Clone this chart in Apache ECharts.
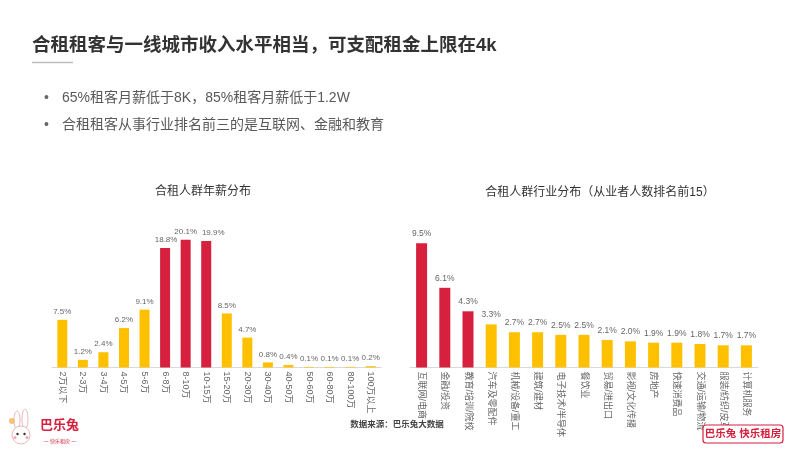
<!DOCTYPE html>
<html><head><meta charset="utf-8">
<script src="https://cdn.jsdelivr.net/npm/echarts@6/dist/echarts.min.js"></script>
<style>html,body{margin:0;padding:0;background:#fff}#c{width:800px;height:450px}</style>
</head><body><div id="c"></div>
<script>
var salaryCats = ['2万以下','2-3万','3-4万','4-5万','5-6万','6-8万','8-10万','10-15万','15-20万','20-30万','30-40万','40-50万','50-60万','60-80万','80-100万','100万以上'];
var salaryVals = [7.5,1.2,2.4,6.2,9.1,18.8,20.1,19.9,8.5,4.7,0.8,0.4,0.1,0.1,0.1,0.2];
var salaryRed = [5,6,7];
var industryCats = ['互联网/电商','金融/投资','教育/培训/院校','汽车及零配件','机械/设备/重工','建筑/建材','电子技术/半导体','餐饮业','贸易/进出口','影视/文化传播','房地产','快速消费品','交通/运输/物流','服装/纺织/皮革','计算机服务'];
var industryVals = [9.5,6.1,4.3,3.3,2.7,2.7,2.5,2.5,2.1,2.0,1.9,1.9,1.8,1.7,1.7];
var industryRed = [0,1,2];

var RED = '#D7203E', YEL = '#FFC000';
var FONT = '"Liberation Sans","Noto Sans CJK SC",sans-serif';

function colorFn(reds){ return function(p){ return reds.indexOf(p.dataIndex) >= 0 ? RED : YEL; }; }
function lbl(p){ return Number(p.value).toFixed(1) + '%'; }

// shift crowded labels the way the reference does
var salaryData = salaryVals.map(function(v, i){
  if (i === 5) return {value: v, label: {offset: [1, 0]}};
  if (i === 7) return {value: v, label: {offset: [7, 0]}};
  return v;
});

var axisCommon = {
  type: 'category',
  axisLine: {lineStyle: {color: '#d9d9d9', width: 1}},
  axisTick: {show: false},
  axisLabel: {interval: 0, rotate: -90, fontSize: 9, color: '#666', fontFamily: FONT, margin: 4}
};

var chart = echarts.init(document.getElementById('c'));
chart.setOption({
  backgroundColor: '#fff',
  animation: false,
  textStyle: {fontFamily: FONT},
  grid: [
    {left: 52, width: 329, top: 208.5, bottom: 82.5},
    {left: 410, width: 348, top: 210.7, bottom: 82.5}
  ],
  xAxis: [
    Object.assign({}, axisCommon, {gridIndex: 0, data: salaryCats}),
    Object.assign({}, axisCommon, {gridIndex: 1, data: industryCats})
  ],
  yAxis: [
    {gridIndex: 0, type: 'value', min: 0, max: 25, show: false},
    {gridIndex: 1, type: 'value', min: 0, max: 12, show: false}
  ],
  series: [
    {type: 'bar', xAxisIndex: 0, yAxisIndex: 0, data: salaryData, barWidth: 10,
     itemStyle: {color: colorFn(salaryRed)},
     label: {show: true, position: 'top', formatter: lbl, fontSize: 8, color: '#666', fontFamily: FONT, distance: 4}},
    {type: 'bar', xAxisIndex: 1, yAxisIndex: 1, data: industryVals, barWidth: 11,
     itemStyle: {color: colorFn(industryRed)},
     label: {show: true, position: 'top', formatter: lbl, fontSize: 8.5, color: '#666', fontFamily: FONT, distance: 5}}
  ],
  graphic: [
    {type: 'text', left: 32, top: 37, style: {text: '合租租客与一线城市收入水平相当，可支配租金上限在4k', font: 'bold 18.5px ' + FONT, fill: '#333'}},
    {type: 'line', shape: {x1: 32, y1: 62.5, x2: 73, y2: 62.5}, style: {stroke: '#bbb', lineWidth: 1.5}},
    {type: 'text', left: 44, top: 91, style: {text: '•', font: '14px ' + FONT, fill: '#666'}},
    {type: 'text', left: 62, top: 91, style: {text: '65%租客月薪低于8K，85%租客月薪低于1.2W', font: '14px ' + FONT, fill: '#595959'}},
    {type: 'text', left: 44, top: 118, style: {text: '•', font: '14px ' + FONT, fill: '#666'}},
    {type: 'text', left: 62, top: 118, style: {text: '合租租客从事行业排名前三的是互联网、金融和教育', font: '14px ' + FONT, fill: '#595959'}},
    {type: 'text', x: 203, y: 192, style: {text: '合租人群年薪分布', font: '12px ' + FONT, fill: '#333', align: 'center', verticalAlign: 'middle'}},
    {type: 'text', x: 600, y: 193, style: {text: '合租人群行业分布（从业者人数排名前15）', font: '12px ' + FONT, fill: '#333', align: 'center', verticalAlign: 'middle'}},
    {type: 'text', x: 397, y: 425, style: {text: '数据来源：巴乐兔大数据', font: 'bold 8.5px ' + FONT, fill: '#444', align: 'center', verticalAlign: 'middle'}},
    // bottom-right logo box
    {type: 'rect', shape: {x: 703, y: 425, width: 80, height: 18, r: 3}, style: {fill: '#fff', stroke: '#D7203E', lineWidth: 1.2}, z: 10},
    {type: 'text', x: 743, y: 434, z: 11, style: {text: '巴乐兔 快乐租房', font: 'bold 10.5px ' + FONT, fill: '#D7203E', align: 'center', verticalAlign: 'middle'}},
    // bottom-left logo
    {type: 'ellipse', shape: {cx: 17, cy: 420, rx: 3, ry: 9}, style: {fill: '#fff', stroke: '#e9b9b9', lineWidth: 1}},
    {type: 'ellipse', shape: {cx: 25, cy: 419, rx: 3, ry: 10}, style: {fill: '#fff', stroke: '#e9b9b9', lineWidth: 1}},
    {type: 'circle', shape: {cx: 21, cy: 435, r: 9}, style: {fill: '#fff', stroke: '#e9b9b9', lineWidth: 1}},
    {type: 'circle', shape: {cx: 17.5, cy: 434, r: 1.2}, style: {fill: '#333'}},
    {type: 'circle', shape: {cx: 24.5, cy: 434, r: 1.2}, style: {fill: '#333'}},
    {type: 'circle', shape: {cx: 15, cy: 437.5, r: 1.5}, style: {fill: '#f6a5b0'}},
    {type: 'circle', shape: {cx: 27, cy: 437.5, r: 1.5}, style: {fill: '#f6a5b0'}},
    {type: 'circle', shape: {cx: 12, cy: 421, r: 3}, style: {fill: '#f2c27a'}},
    {type: 'text', left: 40, top: 419, style: {text: '巴乐兔', font: 'bold 13px ' + FONT, fill: '#D7203E'}},
    {type: 'text', x: 60, y: 442, style: {text: '— 快乐租房 —', font: '5px ' + FONT, fill: '#D7203E', align: 'center', verticalAlign: 'middle'}}
  ]
});
</script></body></html>
